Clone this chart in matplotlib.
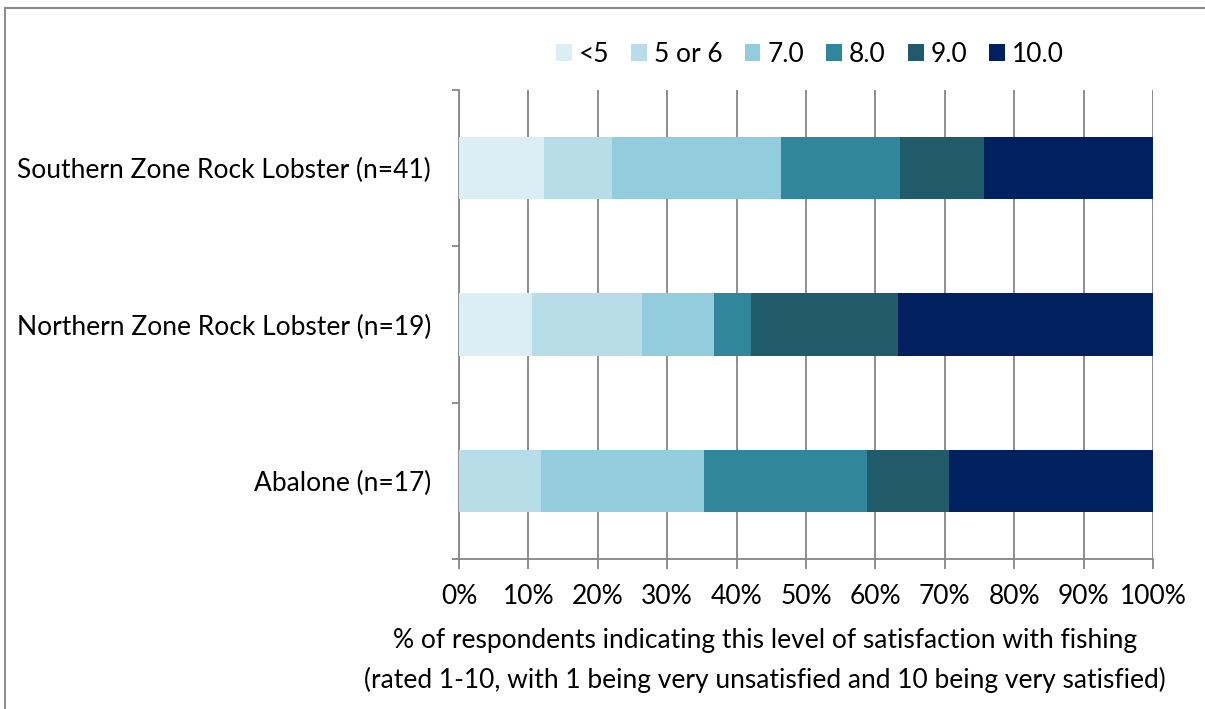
import matplotlib
matplotlib.use("Agg")
import matplotlib.pyplot as plt
from matplotlib.patches import Rectangle
import numpy as np

plt.rcParams['font.family'] = ['Lato', 'DejaVu Sans']

# Fisheries (top to bottom) and satisfaction categories
fisheries = ["Southern Zone Rock Lobster (n=41)",
             "Northern Zone Rock Lobster (n=19)",
             "Abalone (n=17)"]
categories = ["<5", "5 or 6", "7.0", "8.0", "9.0", "10.0"]

# Share of respondents (%) in each rating category, per fishery
southern = [12.2, 9.8, 24.4, 17.1, 12.2, 24.4]
northern = [10.5, 15.8, 10.5, 5.3, 21.1, 36.8]
abalone = [0.0, 11.8, 23.5, 23.5, 11.8, 29.4]

colors = ["#DAEEF3", "#B7DEE8", "#93CDDD", "#31869B", "#215A69", "#002060"]
x_ticks = np.arange(0, 101, 10)
x_tick_labels = [f"{v}%" for v in x_ticks]

data = np.array([southern, northern, abalone])
ypos = np.arange(len(fisheries))

FS = 19

fig = plt.figure(figsize=(12.05, 7.09), dpi=100)
ax = fig.add_axes([459 / 1205, 1 - 559 / 709, (1153 - 459) / 1205, (559 - 90) / 709])

# Outer chart border (extends beyond the right/bottom edges)
fig.patches.append(Rectangle((5 / 1205, -0.1), 1.2, 1 - 8 / 709 + 0.1,
                             transform=fig.transFigure, fill=False,
                             edgecolor="#8c8c8c", linewidth=1.5, zorder=0))

left = np.zeros(len(fisheries))
for i, cat in enumerate(categories):
    vals = data[:, i]
    ax.barh(ypos, vals, left=left, height=0.4, color=colors[i],
            label=cat, zorder=3)
    left += vals

ax.set_xlim(0, 100)
ax.set_ylim(2.5, -0.5)

ax.set_xticks(x_ticks)
ax.set_xticklabels(x_tick_labels, fontsize=FS)
ax.grid(axis="x", color="#868686", linewidth=1.3, zorder=0)

# Category boundary ticks on the y axis, labels centred on the bars
ax.set_yticks(np.arange(-0.5, len(fisheries), 1.0))
ax.set_yticklabels([])
ax.set_yticks(ypos, minor=True)
ax.set_yticklabels(fisheries, minor=True, fontsize=FS)
ax.tick_params(axis="y", which="minor", length=0, pad=20)
ax.tick_params(axis="y", which="major", length=5, width=1.3, color="#868686")
ax.tick_params(axis="x", length=7, width=1.3, color="#868686", pad=11)

for side in ["top", "right"]:
    ax.spines[side].set_visible(False)
for side in ["left", "bottom"]:
    ax.spines[side].set_color("#868686")
    ax.spines[side].set_linewidth(1.3)

ax.set_xlabel("% of respondents indicating this level of satisfaction with fishing\n"
              "(rated 1-10, with 1 being very unsatisfied and 10 being very satisfied)",
              fontsize=FS, labelpad=14, linespacing=1.62, x=0.441)

ax.legend(loc="center", bbox_to_anchor=(810 / 1205, 1 - 54 / 709),
          bbox_transform=fig.transFigure, ncol=6, frameon=False,
          fontsize=FS, handlelength=0.6, handleheight=0.6,
          handletextpad=0.27, columnspacing=0.83)

fig.savefig("out.png", dpi=100)
